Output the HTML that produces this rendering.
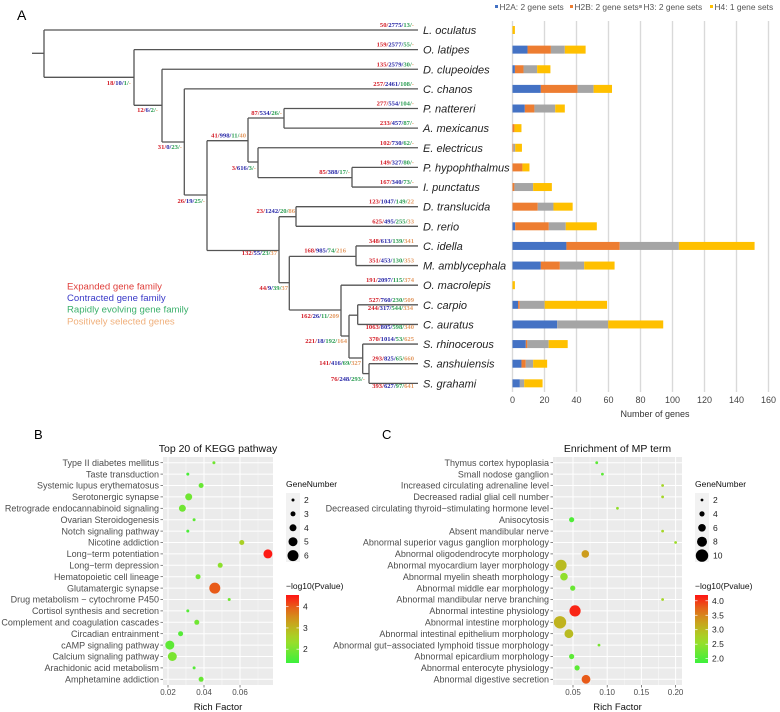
<!DOCTYPE html>
<html><head><meta charset="utf-8"><style>
html,body{margin:0;padding:0;background:#fff;}
svg{display:block;}
</style></head><body>
<svg id="fig" width="780" height="712" viewBox="0 0 780 712" xmlns="http://www.w3.org/2000/svg" font-family="Liberation Sans, sans-serif">
<text x="17" y="20" font-size="14" fill="#000">A</text>
<text x="34" y="439" font-size="13" fill="#000">B</text>
<text x="382" y="439" font-size="13" fill="#000">C</text>
<g id="tree"></g>
<g id="bars"></g>
<g id="kegg"></g>
<g id="mp"></g>
</svg>
<script>
// ---------- Panel A data ----------
const species = ["L. oculatus","O. latipes","D. clupeoides","C. chanos","P. nattereri","A. mexicanus","E. electricus","P. hypophthalmus","I. punctatus","D. translucida","D. rerio","C. idella","M. amblycephala","O. macrolepis","C. carpio","C. auratus","S. rhinocerous","S. anshuiensis","S. grahami"];
const leafStats = ["50/2775/13/-","159/2577/55/-","135/2579/30/-","257/2461/108/-","277/554/104/-","233/457/87/-","102/730/62/-","149/327/80/-","167/340/73/-","123/1047/149/22","625/495/255/33","348/613/139/341","351/453/130/353","191/2097/115/374","527/760/230/509","1063/805/598/340","370/1014/53/625","293/825/65/660","393/627/97/641"];
const h2a = [0,9.4,1.5,17.7,7.7,0,0,0,0,0,1.7,33.7,17.7,0,3.5,27.9,8.3,5.6,4.6];
const h2b = [0,14.6,5.4,23,6,1.2,0.5,6.2,1.2,15.8,21,33.3,11.9,0,1,0,1,2.7,0];
const h3  = [0,8.7,8.5,10,13,0,1.2,0,11.7,9.8,10.6,37,15.2,0,15.6,31.9,13.3,4.6,2.7];
const h4  = [1.5,13,8.3,11.5,6,4.4,4.2,4.4,11.7,12,19.4,47.3,19,1.5,39,34.4,11.9,8.75,11.5];
const barTicks = [0,20,40,60,80,100,120,140,160];
const seriesNames = ["H2A: 2 gene sets","H2B: 2 gene sets","H3: 2 gene sets","H4: 1 gene sets"];

// ---------- Panel B data ----------
const keggTerms = ["Type II diabetes mellitus","Taste transduction","Systemic lupus erythematosus","Serotonergic synapse","Retrograde endocannabinoid signaling","Ovarian Steroidogenesis","Notch signaling pathway","Nicotine addiction","Long\u2212term potentiation","Long\u2212term depression","Hematopoietic cell lineage","Glutamatergic synapse","Drug metabolism \u2212 cytochrome P450","Cortisol synthesis and secretion","Complement and coagulation cascades","Circadian entrainment","cAMP signaling pathway","Calcium signaling pathway","Arachidonic acid metabolism","Amphetamine addiction"];
const keggRich = [0.0455,0.031,0.0384,0.0315,0.028,0.0345,0.031,0.061,0.0755,0.049,0.0367,0.046,0.054,0.031,0.036,0.027,0.021,0.0224,0.0345,0.0384];
const keggGenes = [2,2,3,4,4,2,2,3,5,3,3,6,2,2,3,3,5,5,2,3];
const keggP = [1.9,1.5,1.8,1.9,1.9,1.7,1.5,2.6,4.5,2.2,1.9,4.0,1.9,1.6,1.9,1.6,1.7,2.0,1.6,1.8];
const keggXTicks = [0.02,0.04,0.06];
const keggSizeTicks = [2,3,4,5,6];
const keggColorTicks = [2,3,4];

// ---------- Panel C data ----------
const mpTerms = ["Thymus cortex hypoplasia","Small nodose ganglion","Increased circulating adrenaline level","Decreased radial glial cell number","Decreased circulating thyroid\u2212stimulating hormone level","Anisocytosis","Absent mandibular nerve","Abnormal superior vagus ganglion morphology","Abnormal oligodendrocyte morphology","Abnormal myocardium layer morphology","Abnormal myelin sheath morphology","Abnormal middle ear morphology","Abnormal mandibular nerve branching","Abnormal intestine physiology","Abnormal intestine morphology","Abnormal intestinal epithelium morphology","Abnormal gut\u2212associated lymphoid tissue morphology","Abnormal epicardium morphology","Abnormal enterocyte physiology","Abnormal digestive secretion"];
const mpRich = [0.0847,0.093,0.181,0.181,0.115,0.048,0.181,0.2,0.068,0.0325,0.0368,0.0496,0.181,0.053,0.031,0.044,0.088,0.048,0.056,0.069];
const mpGenes = [2,2,2,2,2,4,2,2,6,9,6,4,2,9,10,7,2,4,4,7];
const mpP = [2.1,2.1,2.7,2.7,2.5,2.0,2.7,2.6,3.3,3.0,2.5,2.2,2.7,4.1,3.1,3.0,2.3,2.1,2.1,3.8];
const mpXTicks = [0.05,0.10,0.15,0.20];
const mpSizeTicks = [2,4,6,8,10];
const mpColorTicks = [2.0,2.5,3.0,3.5,4.0];

const NS = "http://www.w3.org/2000/svg";
function mk(parent, tag, attrs, text){
  const e = document.createElementNS(NS, tag);
  for (const k in attrs) e.setAttribute(k, attrs[k]);
  if (text !== undefined) e.textContent = text;
  parent.appendChild(e);
  return e;
}

// ===== Tree =====
const tree = document.getElementById('tree');
const rowY = i => 30 + 19.63*i;
const tipX = 418;
const LC = "#555";
function line(x1,y1,x2,y2){
  const l = mk(tree,'line',{x1:x1,y1:y1,x2:x2,y2:y2,stroke:LC,'stroke-width':1.3});
  
  
}
const nodes = [
 [44, rowY(0), 77.3],
 [134, rowY(1), 105.3],
 [162, rowY(2), 142],
 [184.3, rowY(3), 195],
 [207, 140.7, 250.5],
 [248, 118, 162],
 [284, rowY(4), rowY(5)],
 [258, rowY(6), 177.6],
 [352, rowY(7), rowY(8)],
 [279, 216.7, 282.7],
 [296, rowY(9), rowY(10)],
 [289.3, 256.4, 310],
 [356, rowY(11), rowY(12)],
 [341, rowY(13), 336],
 [349, 315.2, 358],
 [357.7, rowY(14), rowY(15)],
 [362.7, rowY(16), 373.6],
 [369, rowY(17), rowY(18)]
];
nodes.forEach(n => line(n[0], n[1], n[0], n[2]));
line(32, 53.3, 44, 53.3);
const leafParent = [44,134,162,184.3,284,284,258,352,352,296,296,356,356,341,357.7,357.7,362.7,369,369];
species.forEach((s,i)=>{ line(leafParent[i], rowY(i), tipX, rowY(i)); });
line(44,77.3,134,77.3); line(134,105.3,162,105.3); line(162,142,184.3,142);
line(184.3,195,207,195); line(207,140.7,248,140.7); line(248,118,284,118);
line(248,162,258,162); line(258,177.6,352,177.6); line(207,250.5,279,250.5);
line(279,216.7,296,216.7); line(279,282.7,289.3,282.7); line(289.3,256.4,356,256.4);
line(289.3,310,341,310); line(341,336,349,336); line(349,315.2,357.7,315.2);
line(349,358,362.7,358); line(362.7,373.6,369,373.6);

const statColors = ["#d4202a","#2a2aa8","#2e9e55","#e39a63"];
function stat(str, xEnd, y, name){
  const t = mk(tree,'text',{x:xEnd,y:y,'text-anchor':'end','font-size':6.6,'font-family':'Liberation Serif, serif','font-weight':'bold'});
  
  
  const parts = str.split('/');
  parts.forEach((p,k)=>{
    mk(t,'tspan',{fill:statColors[k]}, p);
    if (k < parts.length-1) mk(t,'tspan',{fill:statColors[k]}, '/');
  });
}
species.forEach((s,i)=>{
  const y = (i===15 || i===18) ? rowY(i)+4.5 : rowY(i)-3;
  stat(leafStats[i], 414, y, 'leaf-stats');
  const t = mk(tree,'text',{x:423,y:rowY(i)+4,'font-size':11,'font-style':'italic',fill:'#222'}, s);
  
  
});
const nodeStats = [
 ["18/10/1/-",131,85],["12/6/2/-",158,112],["31/0/23/-",182,149],["26/19/25/-",205,203],
 ["41/998/11/40",246,137.7],["87/534/26/-",282,115],["3/616/3/-",256,170],["85/388/17/-",350,174],
 ["23/1242/20/86",295,213],["132/55/23/37",277,255],["168/985/74/216",346,252.7],["44/9/39/37",288,290],
 ["162/26/11/209",339,318],["244/317/544/334",413,310],["221/18/192/164",347,343],
 ["141/416/69/327",361,365],["76/248/293/-",365,381]
];
nodeStats.forEach(n=>stat(n[0],n[1],n[2],'node-stats'));

const legTexts = ["Expanded gene family","Contracted gene family","Rapidly evolving gene family","Positively selected genes"];
const legCols = ["#e0403c","#3a3ac8","#3cb06c","#f0b07c"];
legTexts.forEach((t,i)=>{
  const e = mk(tree,'text',{x:67,y:289.3+11.7*i,'font-size':9.6,fill:legCols[i]}, t);
  
  
});

// ===== Bars =====
const bars = document.getElementById('bars');
const bx = v => 512.5 + v*1.6;
barTicks.forEach(t=>{
  const l = mk(bars,'line',{x1:bx(t),x2:bx(t),y1:21,y2:392,stroke:'#d9d9d9','stroke-width':1.4});
  
  
  const tx = mk(bars,'text',{x:bx(t),y:403,'text-anchor':'middle','font-size':9,fill:'#444'}, String(t));
  
  
});
const xt = mk(bars,'text',{x:655,y:417,'text-anchor':'middle','font-size':9,fill:'#333'},'Number of genes');


const serCols = ["#4472c4","#ed7d31","#a5a5a5","#ffc000"];
const series = [h2a,h2b,h3,h4];
species.forEach((s,i)=>{
  let acc = 0;
  series.forEach((arr,k)=>{
    const v = arr[i];
    if (v>0){
      const r = mk(bars,'rect',{x:bx(acc),y:rowY(i)-4,width:v*1.6,height:8,fill:serCols[k]});
      
      
    }
    acc += v;
  });
});
const legX = [495,570,639,710];
seriesNames.forEach((n,k)=>{
  const r = mk(bars,'rect',{x:legX[k],y:5,width:3,height:3,fill:serCols[k]});
  
  
  const t = mk(bars,'text',{x:legX[k]+4.5,y:9.8,'font-size':8.4,fill:'#555'}, n);
  
  
});

// ===== Color scale =====
const stops = [[0,[60,240,60]],[0.33,[160,220,40]],[0.55,[195,175,30]],[0.78,[225,110,25]],[1,[255,20,20]]];
function colorAt(f){
  f = Math.max(0,Math.min(1,f));
  for (let i=1;i<stops.length;i++){
    if (f<=stops[i][0]){
      const a=stops[i-1], b=stops[i], t=(f-a[0])/(b[0]-a[0]);
      const c=a[1].map((v,j)=>Math.round(v+(b[1][j]-v)*t));
      return `rgb(${c[0]},${c[1]},${c[2]})`;
    }
  }
  return 'rgb(255,20,20)';
}

function dotPlot(g, cfg){
  const {terms, rich, genes, pv, xTicks, sizeTicks, colorTicks, px0, px1, py0, py1, xs, rad, pmin, pmax, title, legX, tickFmt, prefix} = cfg;
  let defs = mk(g,'defs',{});
  const grad = mk(defs,'linearGradient',{id:prefix+'grad',x1:0,y1:1,x2:0,y2:0});
  for (let i=0;i<=10;i++) mk(grad,'stop',{offset:(i*10)+'%','stop-color':colorAt(i/10)});
  const bg = mk(g,'rect',{x:px0,y:py0,width:px1-px0,height:py1-py0,fill:'#ebebeb'});
  
  
  const rowStep = (py1-py0-11.4)/ (terms.length-1);
  const ry = i => py0 + 5.7 + i*rowStep;
  for (let k=0;k<xTicks.length;k++){
    const d = xTicks[1]-xTicks[0];
    [xTicks[k]-d/2, xTicks[k]+d/2].forEach(v=>{
      const x = xs(v);
      if (x>px0 && x<px1) mk(g,'line',{x1:x,x2:x,y1:py0,y2:py1,stroke:'#f6f6f6','stroke-width':0.5});
    });
  }
  terms.forEach((t,i)=>{
    const l = mk(g,'line',{x1:px0,x2:px1,y1:ry(i),y2:ry(i),stroke:'#fff','stroke-width':1});
    
    
    const tx = mk(g,'text',{x:px0-4,y:ry(i)+3.2,'text-anchor':'end','font-size':9,fill:'#4d4d4d'}, t);
    
    
    mk(g,'line',{x1:px0-2.5,x2:px0,y1:ry(i),y2:ry(i),stroke:'#4d4d4d','stroke-width':0.7});
  });
  xTicks.forEach(v=>{
    const x = xs(v);
    const l = mk(g,'line',{x1:x,x2:x,y1:py0,y2:py1,stroke:'#fff','stroke-width':1});
    
    
    mk(g,'line',{x1:x,x2:x,y1:py1,y2:py1+2.5,stroke:'#4d4d4d','stroke-width':0.7});
    const tx = mk(g,'text',{x:x,y:py1+10,'text-anchor':'middle','font-size':8,fill:'#4d4d4d'}, tickFmt(v));
    
    
  });
  terms.forEach((t,i)=>{
    const c = mk(g,'circle',{cx:xs(rich[i]),cy:ry(i),r:rad(genes[i]),fill:colorAt((pv[i]-pmin)/(pmax-pmin))});
    
    
  });
  const tt = mk(g,'text',{x:(px0+px1)/2,y:py0-5,'text-anchor':'middle','font-size':10.5,fill:'#111'}, title);
  
  
  const xa = mk(g,'text',{x:(px0+px1)/2,y:710,'text-anchor':'middle','font-size':9.5,fill:'#111'}, 'Rich Factor');
  
  
  const lt = mk(g,'text',{x:legX,y:487,'font-size':8.5,fill:'#111'},'GeneNumber');
  
  
  mk(g,'rect',{x:legX,y:493,width:14,height:69,fill:'#f2f2f2'});
  sizeTicks.forEach((s,k)=>{
    const y = 500 + k*13.9;
    const c = mk(g,'circle',{cx:legX+7,cy:y,r:rad(s),fill:'#000'});
    
    
    const t = mk(g,'text',{x:legX+18,y:y+3,'font-size':8.5,fill:'#222'}, String(s));
    
    
  });
  const ct = mk(g,'text',{x:legX,y:589,'font-size':8.5,fill:'#111'},'\u2212log10(Pvalue)');
  
  
  const cb = mk(g,'rect',{x:legX,y:595,width:13,height:68,fill:`url(#${prefix}grad)`});
  
  
  colorTicks.forEach(v=>{
    const y = 663 - (v-pmin)/(pmax-pmin)*68;
    mk(g,'line',{x1:legX,x2:legX+2.5,y1:y,y2:y,stroke:'#fff','stroke-width':0.7});
    mk(g,'line',{x1:legX+10.5,x2:legX+13,y1:y,y2:y,stroke:'#fff','stroke-width':0.7});
    const t = mk(g,'text',{x:legX+17,y:y+3,'font-size':8.5,fill:'#222'}, cfg.colorFmt(v));
    
    
  });
}

dotPlot(document.getElementById('kegg'), {
  terms:keggTerms, rich:keggRich, genes:keggGenes, pv:keggP, xTicks:keggXTicks, sizeTicks:keggSizeTicks, colorTicks:keggColorTicks,
  px0:163, px1:273, py0:457, py1:685, xs:v=>168+(v-0.02)*1800, rad:n=>1.5+(n-2)*1.0,
  pmin:1.35, pmax:4.55, title:'Top 20 of KEGG pathway', legX:286, tickFmt:v=>v.toFixed(2), colorFmt:v=>String(v), prefix:'k'
});
dotPlot(document.getElementById('mp'), {
  terms:mpTerms, rich:mpRich, genes:mpGenes, pv:mpP, xTicks:mpXTicks, sizeTicks:mpSizeTicks, colorTicks:mpColorTicks,
  px0:553, px1:682, py0:457, py1:685, xs:v=>573+(v-0.05)*684, rad:n=>1.4+(n-2)*0.6,
  pmin:1.85, pmax:4.2, title:'Enrichment of MP term', legX:695, tickFmt:v=>v.toFixed(2), colorFmt:v=>v.toFixed(1), prefix:'m'
});
</script>
</body></html>
